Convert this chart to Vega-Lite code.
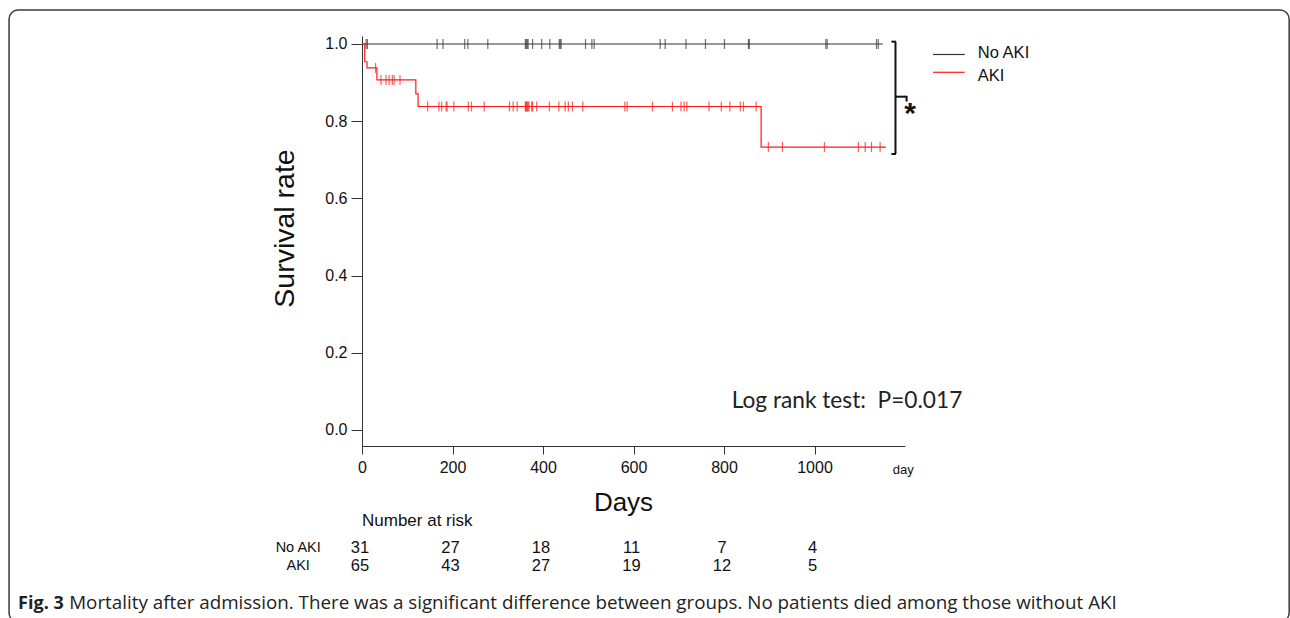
{
  "$schema": "https://vega.github.io/schema/vega-lite/v6.json",
  "width": 543,
  "height": 410,
  "autosize": {"type": "none"},
  "padding": {"left": 362, "top": 36, "right": 385, "bottom": 172},
  "background": "white",
  "config": {"view": {"stroke": null}, "font": "Liberation Sans"},
  "datasets": {
    "curves": [
      {"group": "No AKI", "day": 0, "surv": 1},
      {"group": "No AKI", "day": 1151, "surv": 1},
      {"group": "AKI", "day": 0, "surv": 1},
      {"group": "AKI", "day": 6, "surv": 0.954},
      {"group": "AKI", "day": 11, "surv": 0.938},
      {"group": "AKI", "day": 33, "surv": 0.907},
      {"group": "AKI", "day": 119, "surv": 0.871},
      {"group": "AKI", "day": 124, "surv": 0.838},
      {"group": "AKI", "day": 882, "surv": 0.733},
      {"group": "AKI", "day": 1158, "surv": 0.733}
    ],
    "censor": [
      {"group": "No AKI", "day": 9, "surv": 1},
      {"group": "No AKI", "day": 12, "surv": 1},
      {"group": "No AKI", "day": 166, "surv": 1},
      {"group": "No AKI", "day": 179, "surv": 1},
      {"group": "No AKI", "day": 227, "surv": 1},
      {"group": "No AKI", "day": 234, "surv": 1},
      {"group": "No AKI", "day": 278, "surv": 1},
      {"group": "No AKI", "day": 361, "surv": 1},
      {"group": "No AKI", "day": 363, "surv": 1},
      {"group": "No AKI", "day": 365, "surv": 1},
      {"group": "No AKI", "day": 367, "surv": 1},
      {"group": "No AKI", "day": 377, "surv": 1},
      {"group": "No AKI", "day": 397, "surv": 1},
      {"group": "No AKI", "day": 415, "surv": 1},
      {"group": "No AKI", "day": 436, "surv": 1},
      {"group": "No AKI", "day": 438, "surv": 1},
      {"group": "No AKI", "day": 440, "surv": 1},
      {"group": "No AKI", "day": 494, "surv": 1},
      {"group": "No AKI", "day": 508, "surv": 1},
      {"group": "No AKI", "day": 513, "surv": 1},
      {"group": "No AKI", "day": 659, "surv": 1},
      {"group": "No AKI", "day": 670, "surv": 1},
      {"group": "No AKI", "day": 716, "surv": 1},
      {"group": "No AKI", "day": 759, "surv": 1},
      {"group": "No AKI", "day": 801, "surv": 1},
      {"group": "No AKI", "day": 854, "surv": 1},
      {"group": "No AKI", "day": 856, "surv": 1},
      {"group": "No AKI", "day": 1025, "surv": 1},
      {"group": "No AKI", "day": 1028, "surv": 1},
      {"group": "No AKI", "day": 1137, "surv": 1},
      {"group": "No AKI", "day": 1141, "surv": 1},
      {"group": "AKI", "day": 30, "surv": 0.938},
      {"group": "AKI", "day": 42, "surv": 0.907},
      {"group": "AKI", "day": 53, "surv": 0.907},
      {"group": "AKI", "day": 60, "surv": 0.907},
      {"group": "AKI", "day": 67, "surv": 0.907},
      {"group": "AKI", "day": 71, "surv": 0.907},
      {"group": "AKI", "day": 84, "surv": 0.907},
      {"group": "AKI", "day": 145, "surv": 0.838},
      {"group": "AKI", "day": 170, "surv": 0.838},
      {"group": "AKI", "day": 176, "surv": 0.838},
      {"group": "AKI", "day": 186, "surv": 0.838},
      {"group": "AKI", "day": 188, "surv": 0.838},
      {"group": "AKI", "day": 203, "surv": 0.838},
      {"group": "AKI", "day": 235, "surv": 0.838},
      {"group": "AKI", "day": 242, "surv": 0.838},
      {"group": "AKI", "day": 270, "surv": 0.838},
      {"group": "AKI", "day": 326, "surv": 0.838},
      {"group": "AKI", "day": 334, "surv": 0.838},
      {"group": "AKI", "day": 343, "surv": 0.838},
      {"group": "AKI", "day": 361, "surv": 0.838},
      {"group": "AKI", "day": 362, "surv": 0.838},
      {"group": "AKI", "day": 364, "surv": 0.838},
      {"group": "AKI", "day": 365, "surv": 0.838},
      {"group": "AKI", "day": 367, "surv": 0.838},
      {"group": "AKI", "day": 369, "surv": 0.838},
      {"group": "AKI", "day": 375, "surv": 0.838},
      {"group": "AKI", "day": 377, "surv": 0.838},
      {"group": "AKI", "day": 386, "surv": 0.838},
      {"group": "AKI", "day": 414, "surv": 0.838},
      {"group": "AKI", "day": 435, "surv": 0.838},
      {"group": "AKI", "day": 449, "surv": 0.838},
      {"group": "AKI", "day": 456, "surv": 0.838},
      {"group": "AKI", "day": 465, "surv": 0.838},
      {"group": "AKI", "day": 488, "surv": 0.838},
      {"group": "AKI", "day": 581, "surv": 0.838},
      {"group": "AKI", "day": 586, "surv": 0.838},
      {"group": "AKI", "day": 642, "surv": 0.838},
      {"group": "AKI", "day": 686, "surv": 0.838},
      {"group": "AKI", "day": 705, "surv": 0.838},
      {"group": "AKI", "day": 712, "surv": 0.838},
      {"group": "AKI", "day": 718, "surv": 0.838},
      {"group": "AKI", "day": 767, "surv": 0.838},
      {"group": "AKI", "day": 794, "surv": 0.838},
      {"group": "AKI", "day": 813, "surv": 0.838},
      {"group": "AKI", "day": 836, "surv": 0.838},
      {"group": "AKI", "day": 843, "surv": 0.838},
      {"group": "AKI", "day": 871, "surv": 0.838},
      {"group": "AKI", "day": 898, "surv": 0.733},
      {"group": "AKI", "day": 929, "surv": 0.733},
      {"group": "AKI", "day": 1022, "surv": 0.733},
      {"group": "AKI", "day": 1097, "surv": 0.733},
      {"group": "AKI", "day": 1112, "surv": 0.733},
      {"group": "AKI", "day": 1126, "surv": 0.733},
      {"group": "AKI", "day": 1145, "surv": 0.733}
    ],
    "risk": [
      {"group": "No AKI", "day": 0, "n": 31},
      {"group": "No AKI", "day": 200, "n": 27},
      {"group": "No AKI", "day": 400, "n": 18},
      {"group": "No AKI", "day": 600, "n": 11},
      {"group": "No AKI", "day": 800, "n": 7},
      {"group": "No AKI", "day": 1000, "n": 4},
      {"group": "AKI", "day": 0, "n": 65},
      {"group": "AKI", "day": 200, "n": 43},
      {"group": "AKI", "day": 400, "n": 27},
      {"group": "AKI", "day": 600, "n": 19},
      {"group": "AKI", "day": 800, "n": 12},
      {"group": "AKI", "day": 1000, "n": 5}
    ]
  },
  "layer": [
    {
      "data": {"values": [{"frame": "border"}]},
      "mark": {"type": "rect", "fill": null, "fillOpacity": 0, "stroke": "#3a3a3a", "strokeWidth": 1.5, "cornerRadius": 9},
      "encoding": {
        "x": {"datum": -780, "type": "quantitative"},
        "x2": {"datum": 2049},
        "y": {"datum": 1.088, "type": "quantitative"},
        "y2": {"datum": -0.497}
      }
    },
    {
      "data": {"name": "curves"},
      "mark": {"type": "line", "interpolate": "step-after", "strokeWidth": 1.2},
      "encoding": {
        "x": {
          "field": "day", "type": "quantitative",
          "scale": {"domain": [0, 1200], "nice": false, "zero": false},
          "axis": {
            "values": [0, 200, 400, 600, 800, 1000], "format": "d", "title": "Days",
            "titleFontSize": 26, "titleFontWeight": "normal", "titleColor": "#111",
            "titleX": 261, "titleY": 56, "titleAlign": "center", "titleBaseline": "middle",
            "labelFontSize": 16, "labelColor": "#111", "labelPadding": 5, "labelFlush": false,
            "tickSize": 8, "tickColor": "#333", "domainColor": "#333", "grid": false
          }
        },
        "y": {
          "field": "surv", "type": "quantitative",
          "scale": {"domain": [-0.0415, 1.0207], "nice": false, "zero": false},
          "axis": {
            "values": [0, 0.2, 0.4, 0.6, 0.8, 1.0], "format": ".1f", "title": "Survival rate",
            "titleFontSize": 28.5, "titleFontWeight": "normal", "titleColor": "#111",
            "titleX": -78, "titleY": 192, "titleAngle": 270, "titleAlign": "center", "titleBaseline": "middle",
            "labelFontSize": 16, "labelColor": "#111", "labelPadding": 4,
            "tickSize": 11, "tickColor": "#333", "domainColor": "#333", "grid": false
          }
        },
        "color": {"field": "group", "type": "nominal", "scale": {"domain": ["No AKI", "AKI"], "range": ["#333333", "#ff1a1a"]}, "legend": null}
      }
    },
    {
      "data": {"name": "censor"},
      "mark": {"type": "tick", "orient": "vertical", "size": 10, "thickness": 1.2},
      "encoding": {
        "x": {"field": "day", "type": "quantitative"},
        "y": {"field": "surv", "type": "quantitative"},
        "color": {"field": "group", "type": "nominal", "legend": null}
      }
    },
    {
      "data": {"values": [{"group": "No AKI"}]},
      "mark": {"type": "rule", "strokeWidth": 1.2},
      "encoding": {
        "x": {"datum": 1262, "type": "quantitative"}, "x2": {"datum": 1332},
        "y": {"datum": 0.9728, "type": "quantitative"},
        "color": {"field": "group", "type": "nominal", "legend": null}
      }
    },
    {
      "data": {"values": [{"group": "AKI"}]},
      "mark": {"type": "rule", "strokeWidth": 1.2},
      "encoding": {
        "x": {"datum": 1262, "type": "quantitative"}, "x2": {"datum": 1332},
        "y": {"datum": 0.9267, "type": "quantitative"},
        "color": {"field": "group", "type": "nominal", "legend": null}
      }
    },
    {
      "data": {"values": [{"group": "No AKI"}]},
      "mark": {"type": "text", "align": "left", "baseline": "middle", "fontSize": 16.5, "color": "#111"},
      "encoding": {
        "x": {"datum": 1361, "type": "quantitative"},
        "y": {"datum": 0.9759, "type": "quantitative"},
        "text": {"field": "group"}
      }
    },
    {
      "data": {"values": [{"group": "AKI"}]},
      "mark": {"type": "text", "align": "left", "baseline": "middle", "fontSize": 16.5, "color": "#111"},
      "encoding": {
        "x": {"datum": 1361, "type": "quantitative"},
        "y": {"datum": 0.9158, "type": "quantitative"},
        "text": {"field": "group"}
      }
    },
    {
      "data": {"values": [{"label": "Log rank test:\u00a0 P=0.017"}]},
      "mark": {"type": "text", "align": "left", "baseline": "alphabetic", "font": "Lato", "fontSize": 22.7, "color": "#222"},
      "encoding": {
        "x": {"datum": 817, "type": "quantitative"},
        "y": {"datum": 0.0562, "type": "quantitative"},
        "text": {"field": "label"}
      }
    },
    {
      "data": {"values": [{"part": "bracket"}]},
      "layer": [
        {"mark": {"type": "rule", "color": "#111", "strokeWidth": 2},
         "encoding": {"x": {"datum": 1179, "type": "quantitative"}, "y": {"datum": 1.006, "type": "quantitative"}, "y2": {"datum": 0.715}}},
        {"mark": {"type": "rule", "color": "#111", "strokeWidth": 2},
         "encoding": {"x": {"datum": 1170, "type": "quantitative"}, "x2": {"datum": 1180}, "y": {"datum": 1.006, "type": "quantitative"}}},
        {"mark": {"type": "rule", "color": "#111", "strokeWidth": 2},
         "encoding": {"x": {"datum": 1170, "type": "quantitative"}, "x2": {"datum": 1180}, "y": {"datum": 0.715, "type": "quantitative"}}},
        {"mark": {"type": "rule", "color": "#111", "strokeWidth": 2},
         "encoding": {"x": {"datum": 1179, "type": "quantitative"}, "x2": {"datum": 1204}, "y": {"datum": 0.8635, "type": "quantitative"}}},
        {"mark": {"type": "rule", "color": "#111", "strokeWidth": 2},
         "encoding": {"x": {"datum": 1203.5, "type": "quantitative"}, "y": {"datum": 0.8655, "type": "quantitative"}, "y2": {"datum": 0.851}}}
      ]
    },
    {
      "data": {"values": [{"sig": "*"}]},
      "mark": {"type": "text", "align": "center", "baseline": "alphabetic", "fontSize": 30, "fontWeight": "bold", "color": "#111"},
      "encoding": {
        "x": {"datum": 1211, "type": "quantitative"},
        "y": {"datum": 0.796, "type": "quantitative"},
        "text": {"field": "sig"}
      }
    },
    {
      "data": {"values": [{"label": "day"}]},
      "mark": {"type": "text", "align": "center", "baseline": "middle", "fontSize": 13, "color": "#111"},
      "encoding": {
        "x": {"datum": 1196, "type": "quantitative"},
        "y": {"datum": -0.1036, "type": "quantitative"},
        "text": {"field": "label"}
      }
    },
    {
      "data": {"values": [{"label": "Number at risk"}]},
      "mark": {"type": "text", "align": "left", "baseline": "middle", "fontSize": 17, "color": "#111"},
      "encoding": {
        "x": {"datum": 0, "type": "quantitative"},
        "y": {"datum": -0.2358, "type": "quantitative"},
        "text": {"field": "label"}
      }
    },
    {
      "data": {"values": [{"group": "No AKI"}]},
      "mark": {"type": "text", "align": "center", "baseline": "middle", "fontSize": 14.5, "color": "#111"},
      "encoding": {
        "x": {"datum": -141, "type": "quantitative"},
        "y": {"datum": -0.3057, "type": "quantitative"},
        "text": {"field": "group"}
      }
    },
    {
      "data": {"values": [{"group": "AKI"}]},
      "mark": {"type": "text", "align": "center", "baseline": "middle", "fontSize": 14.5, "color": "#111"},
      "encoding": {
        "x": {"datum": -141, "type": "quantitative"},
        "y": {"datum": -0.3523, "type": "quantitative"},
        "text": {"field": "group"}
      }
    },
    {
      "data": {"name": "risk"},
      "transform": [{"filter": "datum.group === 'No AKI'"}],
      "mark": {"type": "text", "align": "center", "baseline": "middle", "fontSize": 16.5, "dx": -2, "color": "#111"},
      "encoding": {
        "x": {"field": "day", "type": "quantitative"},
        "y": {"datum": -0.3057, "type": "quantitative"},
        "text": {"field": "n", "type": "quantitative"}
      }
    },
    {
      "data": {"name": "risk"},
      "transform": [{"filter": "datum.group === 'AKI'"}],
      "mark": {"type": "text", "align": "center", "baseline": "middle", "fontSize": 16.5, "dx": -2, "color": "#111"},
      "encoding": {
        "x": {"field": "day", "type": "quantitative"},
        "y": {"datum": -0.3523, "type": "quantitative"},
        "text": {"field": "n", "type": "quantitative"}
      }
    },
    {
      "data": {"values": [{"label": "Fig. 3"}]},
      "mark": {"type": "text", "align": "left", "baseline": "alphabetic", "font": "Open Sans", "fontSize": 18, "fontWeight": "bold", "color": "#222"},
      "encoding": {
        "x": {"datum": -760, "type": "quantitative"},
        "y": {"datum": -0.4637, "type": "quantitative"},
        "text": {"field": "label"}
      }
    },
    {
      "data": {"values": [{"label": "Mortality after admission. There was a significant difference between groups. No patients died among those without AKI"}]},
      "mark": {"type": "text", "align": "left", "baseline": "alphabetic", "font": "Open Sans", "fontSize": 18.8, "color": "#222"},
      "encoding": {
        "x": {"datum": -647, "type": "quantitative"},
        "y": {"datum": -0.4637, "type": "quantitative"},
        "text": {"field": "label"}
      }
    }
  ]
}
